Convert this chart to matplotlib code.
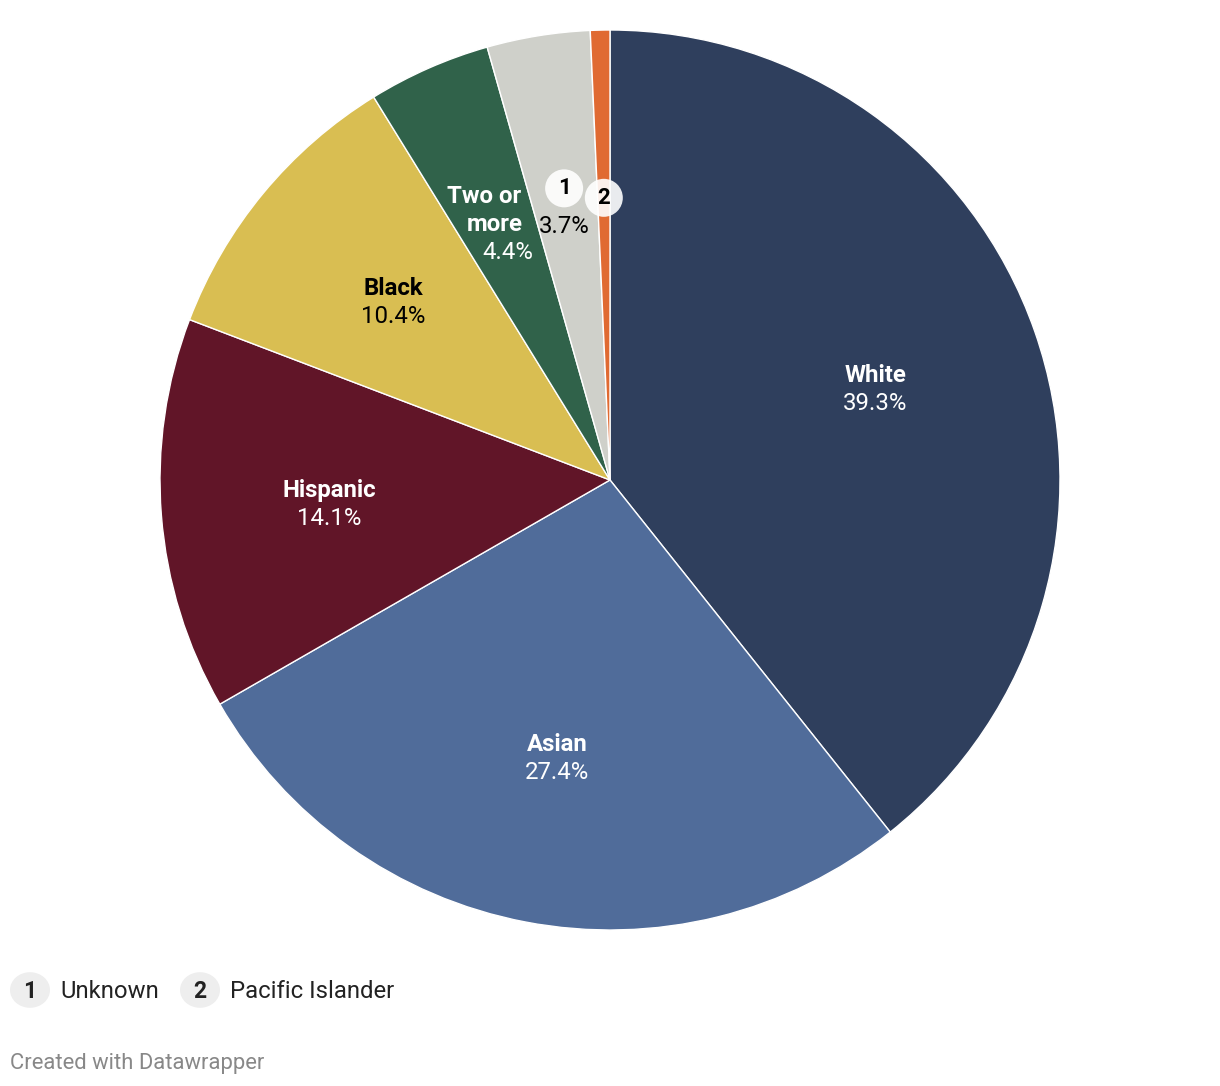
import matplotlib
matplotlib.use("Agg")
import matplotlib.pyplot as plt
from matplotlib.patches import Circle
import numpy as np

categories = ["White", "Asian", "Hispanic", "Black", "Two or\nmore", "Unknown", "Pacific Islander"]
values = [39.3, 27.4, 14.1, 10.4, 4.4, 3.7, 0.7]
colors = ["#2f3f5d", "#506c9a", "#611528", "#d9be52", "#30624a", "#cfd0ca", "#e06a32"]
text_colors = ["white", "white", "white", "black", "white", "black", "black"]
badges = {5: "1", 6: "2"}
legend_items = [("1", "Unknown"), ("2", "Pacific Islander")]

W, H = 1220, 1086
fig = plt.figure(figsize=(W / 100, H / 100), dpi=100)
plt.rcParams['font.family'] = ['Roboto', 'DejaVu Sans']

cx, cy, r = 610, 480, 450
ax = fig.add_axes([(cx - r) / W, (H - cy - r) / H, 2 * r / W, 2 * r / H])

wedges, _ = ax.pie(values, colors=colors, startangle=90, counterclock=False,
                   radius=1, wedgeprops=dict(edgecolor="white", linewidth=1))
ax.set_xlim(-1, 1)
ax.set_ylim(-1, 1)
ax.set_aspect("equal")
ax.axis("off")

FS = 17.3
px = 1.0 / r  # one pixel in data units
lh = 28 * px
# per-line horizontal nudges for the narrow "Two or more" wedge
line_dx = {4: [-13, -2, 11]}
start = 90.0
for i, (cat, v) in enumerate(zip(categories, values)):
    mid = start - v / 100 * 360 / 2
    start -= v / 100 * 360
    a = np.deg2rad(mid)
    d = 0.625
    x, y = d * np.cos(a), d * np.sin(a) - 2 * px
    if i in badges:
        if i == 5:
            bx, by = x - 1 * px, y + 16 * px
            ax.text(x - 1 * px, y - 22 * px, f"{v}%", ha="center", va="center",
                    fontsize=FS, color=text_colors[i])
        else:
            bx, by = x + 0 * px, y + 3 * px
        ax.add_patch(Circle((bx, by), 19 * px, facecolor="white", alpha=0.9,
                            edgecolor="none", zorder=5))
        ax.text(bx, by, badges[i], ha="center", va="center", fontsize=16,
                fontweight="bold", color="black", zorder=6)
        continue
    nlines = cat.count("\n") + 1
    lines = cat.split("\n") + [f"{v}%"]
    total = len(lines)
    y0 = y + (total - 1) / 2 * lh
    dxs = line_dx.get(i, [0] * total)
    for k, ln in enumerate(lines):
        ax.text(x + dxs[k] * px, y0 - k * lh, ln, ha="center", va="center", fontsize=FS,
                fontweight="bold" if k < nlines else "normal", color=text_colors[i])

# legend
lx = [30, 200]
for (num, lab), bx in zip(legend_items, lx):
    fig.patches.append(Circle((bx / W, (H - 990) / H), 20 / W, transform=fig.transFigure,
                              facecolor="#eeeeee", edgecolor="none"))
    fig.text(bx / W, (H - 991) / H, num, ha="center", va="center", fontsize=16.5,
             fontweight="bold", color="#222222")
    fig.text((bx + 30) / W, (H - 991) / H, lab, ha="left", va="center", fontsize=17.2,
             color="#222222")

fig.text(10 / W, (H - 1063) / H, "Created with Datawrapper", ha="left", va="center",
         fontsize=15.8, color="#888888")

fig.savefig("out.png", dpi=100, facecolor="white")
